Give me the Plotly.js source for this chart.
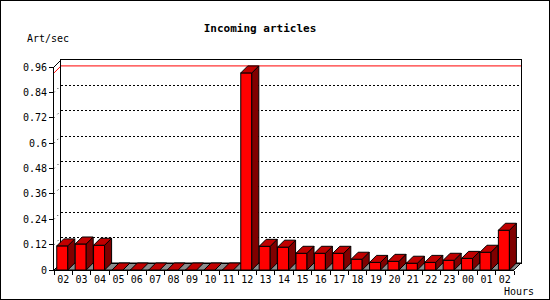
<!DOCTYPE html>
<html>
<head>
<meta charset="utf-8">
<script src="https://cdn.plot.ly/plotly-3.0.1.min.js"></script>
<style>
  html, body { margin: 0; padding: 0; background: #ffffff; }
  #chart { width: 548px; height: 298px; border: 1px solid #000000; }
</style>
</head>
<body>
<div id="chart"></div>
<script>
// ---- data ----
const hourLabels = ["02","03","04","05","06","07","08","09","10","11","12","13","14","15","16","17","18","19","20","21","22","23","00","01","02"];
const articlesPerSec = [0.114, 0.123, 0.117, 0, 0, 0, 0, 0, 0, 0, 0.932, 0.112, 0.108, 0.079, 0.079, 0.079, 0.051, 0.036, 0.041, 0.032, 0.036, 0.046, 0.055, 0.084, 0.188];
const yTickValues = [0, 0.12, 0.24, 0.36, 0.48, 0.6, 0.72, 0.84, 0.96];
const yTickLabels = ["0", "0.12", "0.24", "0.36", "0.48", "0.6", "0.72", "0.84", "0.96"];
const titleText = "Incoming articles";
const yTitleText = "Art/sec";
const xTitleText = "Hours";

// ---- geometry (styles) ----
const W = 548, H = 298;
const L = 53, R = 28, T = 59, B = 29;
const pw = W - L - R, ph = H - T - B;
const D = 7;                     // 3D depth in px
const frontW = pw - D, frontH = ph - D;
const n = hourLabels.length;
const xr = [-0.5, n - 0.5];
const yMax = yTickValues[yTickValues.length - 1];
const yr = [0, yMax];
const ux = frontW / (xr[1] - xr[0]);
const uy = frontH / (yr[1] - yr[0]);
const dx = D / ux, dy = D / uy;
const xrU = [xr[0], xr[1] + dx];
const yrU = [yr[0], yr[1] + dy];
const barW = 0.6, barOff = -0.35;

const FONT = "DejaVu Sans Mono, monospace";
const idx = hourLabels.map((_, i) => i);

// floor
const floorX = [xr[0], xr[1], xr[1] + dx, xr[0] + dx, xr[0]];
const floorY = [0, 0, dy, dy, 0];

// max line (red)
const vmax = Math.max(...articlesPerSec);
const maxX = [xr[0], xr[0] + dx, xr[1] + dx];
const maxY = [vmax, vmax + dy, vmax + dy];

// tick connectors (front axis -> back panel)
const connX = [], connY = [];
yTickValues.slice(1, -1).forEach(v => { connX.push(xr[0], xr[0] + dx, null); connY.push(v, v + dy, null); });
const cornerX = [xr[0], xr[0] + dx], cornerY = [yMax, yMax + dy];

// bar top and side faces
const topX = [], topY = [], sideX = [], sideY = [];
articlesPerSec.forEach((v, i) => {
  const x0 = i + barOff, x1 = x0 + barW;
  topX.push(x0, x1, x1 + dx, x0 + dx, x0, null);
  topY.push(v, v, v + dy, v + dy, v, null);
  if (v > 0) {
    sideX.push(x1, x1 + dx, x1 + dx, x1, x1, null);
    sideY.push(0, dy, v + dy, v, 0, null);
  }
});

const hidden = { showgrid: false, zeroline: false, showline: false, showticklabels: false, ticks: "" };

const traces = [
  { type: "scatter", mode: "lines", x: floorX, y: floorY, xaxis: "x", yaxis: "y",
    fill: "toself", fillcolor: "#8c8c8c", line: { color: "#000000", width: 1 }, hoverinfo: "skip" },
  { type: "scatter", mode: "lines", x: maxX, y: maxY, xaxis: "x", yaxis: "y",
    line: { color: "#ff0000", width: 1 }, hoverinfo: "skip" },
  { type: "scatter", mode: "lines", x: connX, y: connY, xaxis: "x", yaxis: "y",
    line: { color: "#000000", width: 1, dash: "1px,4px" }, hoverinfo: "skip" },
  { type: "scatter", mode: "lines", x: cornerX, y: cornerY, xaxis: "x", yaxis: "y",
    line: { color: "#000000", width: 1 }, hoverinfo: "skip" },
  // dummy to create back panel subplot
  { type: "scatter", mode: "lines", x: [], y: [], xaxis: "x2", yaxis: "y2", hoverinfo: "skip" },
  // bars
  { type: "bar", x: idx, y: articlesPerSec, width: barW, offset: barOff, xaxis: "x3", yaxis: "y3",
    marker: { color: "#ff0000", line: { color: "#000000", width: 1 } }, hoverinfo: "skip" },
  { type: "scatter", mode: "lines", x: sideX, y: sideY, xaxis: "x3", yaxis: "y3",
    fill: "toself", fillcolor: "#800000", line: { color: "#000000", width: 1 }, hoverinfo: "skip" },
  { type: "scatter", mode: "lines", x: topX, y: topY, xaxis: "x3", yaxis: "y3",
    fill: "toself", fillcolor: "#c00000", line: { color: "#000000", width: 1 }, hoverinfo: "skip" },
  // front axes
  { type: "scatter", mode: "lines", x: [], y: [], xaxis: "x4", yaxis: "y4", hoverinfo: "skip" }
];

const layout = {
  width: W, height: H,
  margin: { l: L, r: R, t: T, b: B, pad: 0 },
  paper_bgcolor: "#ffffff", plot_bgcolor: "rgba(0,0,0,0)",
  showlegend: false,
  font: { family: FONT, size: 10, color: "#000000" },
  title: { text: "<b>" + titleText + "</b>", font: { family: FONT, size: 11, color: "#000000" },
           xref: "container", yref: "container", x: 259 / W, xanchor: "center", y: 1 - 27 / H, yanchor: "middle" },
  // drawing union subplot (floor etc.)
  xaxis: Object.assign({ domain: [0, 1], range: xrU, anchor: "y" }, hidden),
  yaxis: Object.assign({ domain: [0, 1], range: yrU, anchor: "x" }, hidden),
  // back panel
  xaxis2: { domain: [D / pw, 1], range: xr, anchor: "y2", showgrid: false, zeroline: false,
            showline: true, mirror: true, linecolor: "#000000", linewidth: 1, showticklabels: false, ticks: "" },
  yaxis2: { domain: [D / ph, 1], range: yr, anchor: "x2", zeroline: false,
            showline: true, mirror: true, linecolor: "#000000", linewidth: 1, showticklabels: false, ticks: "",
            showgrid: true, tickvals: yTickValues.slice(1, -1), gridcolor: "#000000", gridwidth: 1, griddash: "2px,2px" },
  // bars subplot
  xaxis3: Object.assign({ domain: [0, 1], range: xrU, anchor: "y3" }, hidden),
  yaxis3: Object.assign({ domain: [0, 1], range: yrU, anchor: "x3" }, hidden),
  // front axes
  xaxis4: { domain: [0, frontW / pw], range: xr, anchor: "y4", showgrid: false, zeroline: false,
            showline: true, linecolor: "#000000", linewidth: 1,
            tickmode: "array", tickvals: idx, ticktext: hourLabels, ticks: "",
            tickfont: { family: FONT, size: 10, color: "#000000" } },
  xaxis5: { overlaying: "x4", anchor: "y4", side: "bottom", range: xr, showgrid: false, zeroline: false,
            showline: false, showticklabels: false,
            tickmode: "array", tickvals: [-0.5].concat(idx.map(i => i + 0.5)), ticks: "outside", ticklen: 4,
            tickcolor: "#000000", tickwidth: 1 },
  yaxis4: { domain: [0, frontH / ph], range: yr, anchor: "x4", showgrid: false, zeroline: false,
            showline: true, linecolor: "#000000", linewidth: 1,
            tickmode: "array", tickvals: yTickValues, ticktext: yTickLabels,
            ticks: "outside", ticklen: 4, tickcolor: "#000000",
            tickfont: { family: FONT, size: 10, color: "#000000" } },
  annotations: [
    { text: yTitleText, xref: "paper", yref: "paper", x: (48 - 1 - L) / pw, y: 1 + (T - 38) / ph,
      xanchor: "center", yanchor: "middle", showarrow: false, font: { family: FONT, size: 10, color: "#000000" } },
    { text: xTitleText, xref: "paper", yref: "paper", x: (519 - 1 - L) / pw, y: -(291 - 1 - T - ph) / ph,
      xanchor: "center", yanchor: "middle", showarrow: false, font: { family: FONT, size: 10, color: "#000000" } }
  ]
};

// need a trace on x5 so the overlay axis is drawn
traces.push({ type: "scatter", mode: "lines", x: [], y: [], xaxis: "x5", yaxis: "y4", hoverinfo: "skip" });

Plotly.newPlot("chart", traces, layout, { displayModeBar: false, staticPlot: true });
</script>
</body>
</html>
